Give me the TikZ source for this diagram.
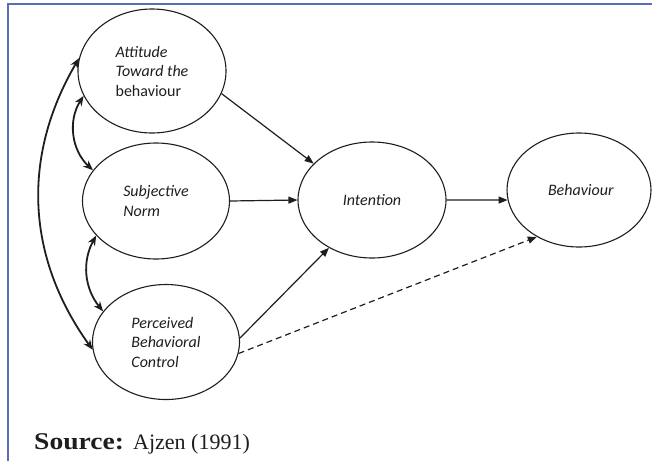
\documentclass[tikz,border=0pt]{standalone}
\usepackage{fontspec}
\setmainfont{Carlito}
\newfontfamily\timesfont{Liberation Serif}
\usetikzlibrary{shapes.geometric,arrows.meta}
\definecolor{bordercol}{RGB}{90,110,180}
\definecolor{ink}{RGB}{30,30,30}
\begin{document}
\begin{tikzpicture}[x=1pt,y=1pt,
  ell/.style={ellipse,draw=ink,line width=1.1pt,inner sep=0pt,text=ink,
    font=\fontsize{16}{19.5}\selectfont,align=left},
  arr/.style={draw=ink,-{Triangle[length=9pt,width=7pt]},line width=1.2pt},
  dashedarr/.style={arr,dash pattern=on 6pt off 4pt},
  bold/.style={draw=ink,{Stealth[length=10pt,width=8pt]}-{Stealth[length=10pt,width=8pt]},line width=1.8pt}]
\useasboundingbox (0,0) rectangle (652,-461);
\draw[bordercol,line width=2pt] (8,-461) -- (8,-4) -- (652,-4);

\node[ell,minimum width=148pt,minimum height=124pt] (att) at (152,-71)
  {\textit{Attitude}\\\textit{Toward the}\\behaviour};
\node[ell,minimum width=147pt,minimum height=116pt] (subj) at (156,-201)
  {\textit{Subjective}\\\textit{Norm}};
\node[ell,minimum width=147pt,minimum height=115pt] (perc) at (166,-342)
  {\textit{Perceived}\\\textit{Behavioral}\\\textit{Control}};
\node[ell,minimum width=148pt,minimum height=116pt] (int) at (372,-200)
  {\textit{Intention}};
\node[ell,minimum width=144pt,minimum height=114pt,text width=70pt] (beh) at (579,-190)
  {\hspace*{4pt}\textit{Behaviour}\\[1pt]};

\draw[arr] (att.-18) -- (int.148);
\draw[arr] (subj.0) -- (int.180);
\draw[arr] (perc.3) -- (int.228);
\draw[arr] (int.0) -- (beh.188);
\draw[dashedarr] (perc.-9) -- (beh.228);

\draw[bold] (att.200) to[bend right=40] (subj.154);
\draw[bold] (subj.210) to[bend right=34] (perc.154);
\draw[bold] (att.170) to[bend right=33] (perc.186);

\node[anchor=base west,inner sep=0pt,text=ink,font=\timesfont\fontsize{22}{22}\selectfont] (src) at (34,-449)
  {\scalebox{1.15}[1]{\fontsize{24}{24}\selectfont\textbf{Source:}}\hspace{9pt}Ajzen (1991)};
\end{tikzpicture}
\end{document}
